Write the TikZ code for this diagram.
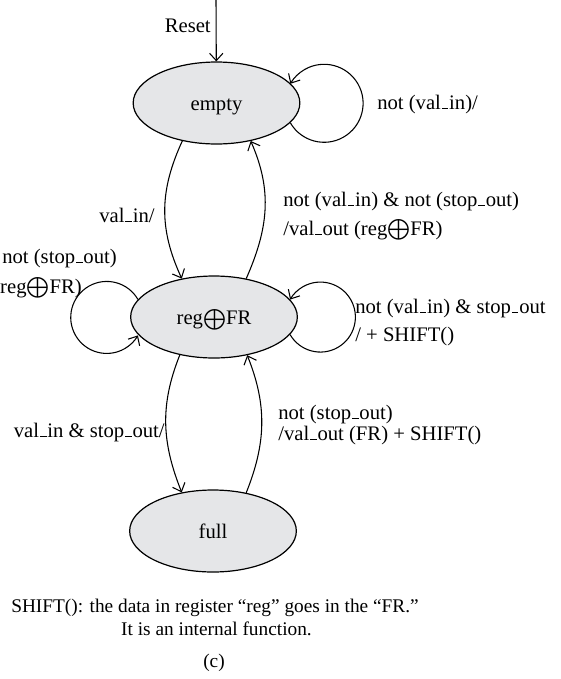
\documentclass[tikz,border=0pt]{standalone}
\usepackage{amsmath}
\usepackage{amssymb}
\usepackage{fontspec}
\setmainfont{Liberation Serif}
\usetikzlibrary{shapes.geometric}
\usetikzlibrary{arrows.meta}

\definecolor{stategray}{RGB}{229,230,232}
\newcommand{\usc}{\kern.04em\rule{.32em}{.055em}\kern.04em}
\newcommand{\regfr}{reg$\bigoplus$FR}

\begin{document}
\begin{tikzpicture}[x=0.75pt,y=0.75pt,yscale=-1,xscale=1,
  state/.style={ellipse,draw,line width=0.9pt,fill=stategray,minimum width=125pt,minimum height=61.5pt,inner sep=0pt,text height=11.5pt,text depth=0.5pt,font=\fontsize{15.5}{20}\selectfont},
  lbl/.style={font=\fontsize{15.5}{20}\selectfont,inner sep=0pt},
  captxt/.style={font=\fontsize{14.5}{19}\selectfont,inner sep=0pt},
  edge/.style={line width=0.8pt,-{Straight Barb[length=5.5pt,width=10pt]}}]
%set diagram to 561 x 679
\useasboundingbox (0,0) rectangle (561,679);

%Shape: Ellipse [empty]
\draw (216.5,103) node [state] (empty) {empty};
%Shape: Ellipse [reg]
\draw (214,317) node [state] (reg) {\regfr};
%Shape: Ellipse [full]
\draw (213,531) node [state] (full) {full};
\coordinate (rst) at (216,0);

%Straight Lines [reset]
\draw [edge] (rst) -- (empty);
%Curve Lines [empty -> reg]
\draw [edge] (empty.228) .. controls +(-23,50) and +(-23,-50) .. (reg.130);
%Curve Lines [reg -> empty]
\draw [edge] (reg.50) .. controls +(22,-50) and +(22,50) .. (empty.-48);
%Curve Lines [reg -> full]
\draw [edge] (reg.228) .. controls +(-20,50) and +(-20,-50) .. (full.129);
%Curve Lines [full -> reg]
\draw [edge] (full.49) .. controls +(20,-50) and +(20,50) .. (reg.-49);
%Arc [empty loop]
\draw [edge] (empty.-15) arc [start angle=150,end angle=-150,radius=39];
%Arc [reg loop right]
\draw [edge] (reg.-13) arc [start angle=150,end angle=-150,radius=35];
%Arc [reg loop left]
\draw [edge] (reg.167) arc [start angle=-30,end angle=-330,radius=36];

% Text Node
\draw (211,32) node [lbl,anchor=base east] (trst) {Reset};
% Text Node
\draw (377,109) node [lbl,anchor=base west] (tempty) {not (val\usc in)/};
% Text Node
\draw (155,222) node [lbl,anchor=base east] (tvalin) {val\usc in/};
% Text Node
\draw (283,206) node [lbl,anchor=base west] (tback1) {not (val\usc in) \& not (stop\usc out)};
\draw (283,235) node [lbl,anchor=base west] (tback2) {/val\usc out (\regfr)};
% Text Node
\draw (355,313) node [lbl,anchor=base west] (tright1) {not (val\usc in) \& stop\usc out};
\draw (355,341) node [lbl,anchor=base west] (tright2) {/ + SHIFT()};
% Text Node
\draw (117,263) node [lbl,anchor=base east] (tleft1) {not (stop\usc out)};
\draw (82,293) node [lbl,anchor=base east] (tleft2) {(\regfr)};
% Text Node
\draw (165,437) node [lbl,anchor=base east] (tfull) {val\usc in \& stop\usc out/};
% Text Node
\draw (278,419) node [lbl,anchor=base west] (tup1) {not (stop\usc out)};
\draw (278,440) node [lbl,anchor=base west] (tup2) {/val\usc out (FR) + SHIFT()};

% Text Node
\draw (215,612) node [captxt,anchor=base] (cap1) {SHIFT(): the data in register ``reg'' goes in the ``FR.''};
\draw (216.5,635) node [captxt,anchor=base] (cap2) {It is an internal function.};
\draw (214,667) node [captxt,anchor=base] (cap3) {(c)};

\end{tikzpicture}
\end{document}
